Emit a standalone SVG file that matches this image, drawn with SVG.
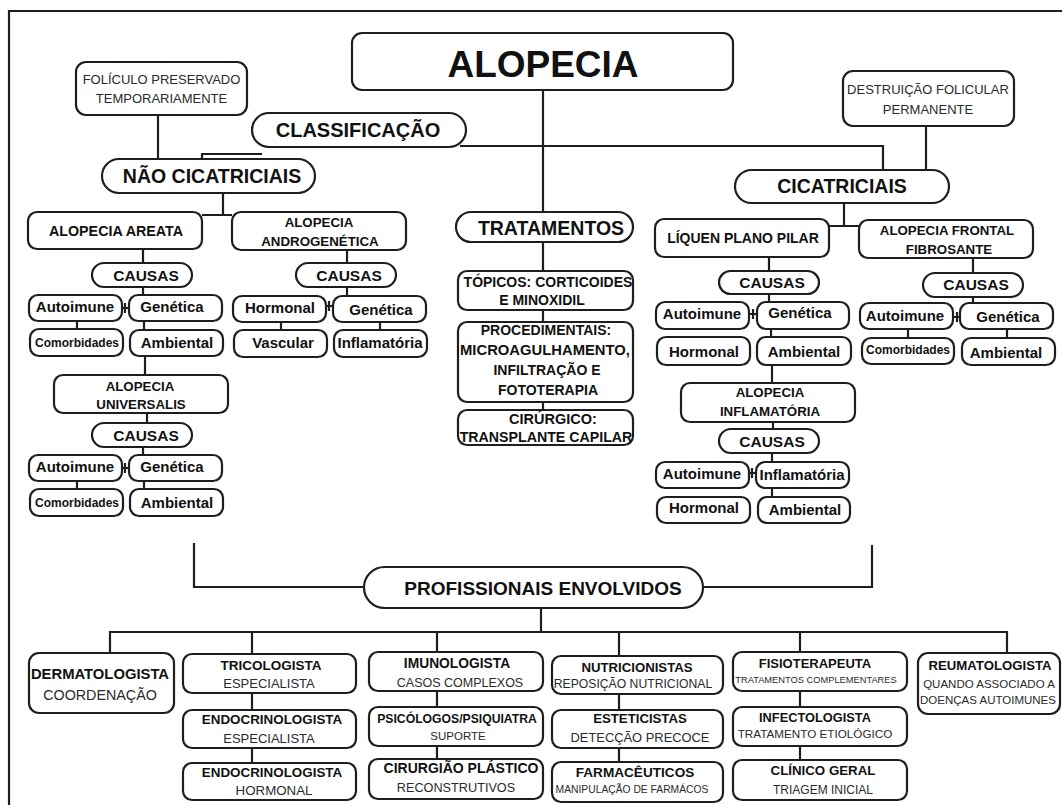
<svg xmlns="http://www.w3.org/2000/svg" width="1062" height="805" viewBox="0 0 1062 805">
<style>
.b{fill:#fff;stroke:#1e1e1e;stroke-width:2.2}
.c{fill:none;stroke:#1e1e1e;stroke-width:2.2}
text{font-family:"Liberation Sans",Arial,sans-serif;fill:#111;text-anchor:middle}
.t{font-weight:bold}
.r{font-weight:normal;fill:#2a2a2a}
.s{font-weight:bold;font-size:15px}
.ca{font-weight:bold;font-size:15.5px}
.cm{font-weight:bold;font-size:12px}
.two{font-weight:bold;font-size:13.3px}
</style>
<rect width="1062" height="805" fill="#fff"/>
<path class="c" d="M9 805 V11 H1062" stroke-width="2.5"/>

<g id="connectors">
<path class="c" d="M543 90 V212"/>
<path class="c" d="M202 159 V154 H262"/>
<path class="c" d="M460 146 H883 V170"/>
<path class="c" d="M158 115 V159"/>
<path class="c" d="M926 126 V170"/>
<path class="c" d="M223 193 V215 M202 215 H232"/>
<path class="c" d="M143 249 V263 M143 287 V295"/>
<path class="c" d="M122 308 H129 M125 303 V313"/>
<path class="c" d="M77 321 V329 M144 321 V330"/>
<path class="c" d="M145 356 V375"/>
<path class="c" d="M147 413 V423 M143 447 V455"/>
<path class="c" d="M122 468 H129 M125 463 V473"/>
<path class="c" d="M77 481 V489 M144 481 V489"/>
<path class="c" d="M347 250 V263 M347 287 V296"/>
<path class="c" d="M326 306 H333 M329 301 V311"/>
<path class="c" d="M281 322 V330 M380 322 V330"/>
<path class="c" d="M543 242 V271 M543 310 V322 M543 402 V410"/>
<path class="c" d="M844 203 V226 M829 226 H859"/>
<path class="c" d="M769 257 V271 M769 294 V302"/>
<path class="c" d="M749 314 H757 M753 309 V319"/>
<path class="c" d="M771 329 V337"/>
<path class="c" d="M772 365 V383"/>
<path class="c" d="M773 422 V429 M772 453 V462"/>
<path class="c" d="M749 473 H756 M752 468 V478"/>
<path class="c" d="M772 488 V497"/>
<path class="c" d="M973 258 V273 M973 297 V303"/>
<path class="c" d="M953 317 H960 M957 312 V322"/>
<path class="c" d="M908 329 V338 M1007 329 V338"/>
<path class="c" d="M194 543 V587 H364 M872 545 V587 H703"/>
<path class="c" d="M541 608 V632 M110 653 V632 H1007 V653"/>
<path class="c" d="M252 632 V654 M437 632 V652 M619 632 V656 M800 632 V652"/>
<path class="c" d="M252 693 V710 M252 748 V763 M437 691 V707 M437 746 V759"/>
<path class="c" d="M619 694 V710 M619 748 V762 M800 691 V707 M800 746 V760"/>
</g>

<g id="n-alopecia"><rect class="b" x="352" y="33" width="381" height="57" rx="10"/><text class="t" x="543" y="77" font-size="37">ALOPECIA</text></g>
<g id="n-classificacao"><rect class="b" x="252" y="113" width="214" height="34" rx="17"/><text class="t" x="358" y="137" font-size="20">CLASSIFICAÇÃO</text></g>
<g id="n-foliculo"><rect class="b" x="76" y="62" width="171" height="53" rx="10"/><text class="r" x="161.5" y="84" font-size="13">FOLÍCULO PRESERVADO</text><text class="r" x="161.5" y="103" font-size="13">TEMPORARIAMENTE</text></g>
<g id="n-destruicao"><rect class="b" x="843" y="71" width="171" height="55" rx="10"/><text class="r" x="928" y="94" font-size="13">DESTRUIÇÃO FOLICULAR</text><text class="r" x="928" y="114" font-size="13">PERMANENTE</text></g>
<g id="n-nao"><rect class="b" x="102" y="159" width="213" height="34" rx="17"/><text class="t" x="212" y="183" font-size="19.5">NÃO CICATRICIAIS</text></g>
<g id="n-cicatriciais"><rect class="b" x="735" y="170" width="214" height="33" rx="16.5"/><text class="t" x="842" y="193" font-size="19.5">CICATRICIAIS</text></g>
<g id="n-tratamentos"><rect class="b" x="456" y="212" width="177" height="30" rx="15"/><text class="t" x="551" y="235" font-size="19.5">TRATAMENTOS</text></g>

<g id="n-areata"><rect class="b" x="28" y="212" width="174" height="37" rx="9"/><text class="t" x="116" y="236" font-size="14.3">ALOPECIA AREATA</text></g>
<g id="n-andro"><rect class="b" x="232" y="212" width="174" height="38" rx="9"/><text class="two" x="319" y="227">ALOPECIA</text><text class="two" x="320" y="246">ANDROGENÉTICA</text></g>
<g id="n-causas1"><rect class="b" x="92" y="263" width="100" height="24" rx="12"/><text class="ca" x="146" y="281">CAUSAS</text></g>
<g id="n-auto1"><rect class="b" x="29" y="295" width="93" height="26" rx="9"/><text class="s" x="75" y="312">Autoimune</text></g>
<g id="n-gen1"><rect class="b" x="129" y="295" width="93" height="26" rx="9"/><text class="s" x="172" y="312">Genética</text></g>
<g id="n-comor1"><rect class="b" x="30" y="329" width="93" height="27" rx="9"/><text class="cm" x="77" y="347">Comorbidades</text></g>
<g id="n-amb1"><rect class="b" x="130" y="330" width="93" height="26" rx="9"/><text class="s" x="177" y="348">Ambiental</text></g>
<g id="n-univ"><rect class="b" x="54" y="375" width="174" height="38" rx="9"/><text class="two" x="140" y="391">ALOPECIA</text><text class="two" x="141" y="409">UNIVERSALIS</text></g>
<g id="n-causas2"><rect class="b" x="92" y="423" width="100" height="24" rx="12"/><text class="ca" x="146" y="441">CAUSAS</text></g>
<g id="n-auto2"><rect class="b" x="29" y="455" width="93" height="26" rx="9"/><text class="s" x="75" y="472">Autoimune</text></g>
<g id="n-gen2"><rect class="b" x="129" y="455" width="93" height="26" rx="9"/><text class="s" x="172" y="472">Genética</text></g>
<g id="n-comor2"><rect class="b" x="30" y="489" width="93" height="27" rx="9"/><text class="cm" x="77" y="507">Comorbidades</text></g>
<g id="n-amb2"><rect class="b" x="130" y="489" width="93" height="27" rx="9"/><text class="s" x="177" y="508">Ambiental</text></g>

<g id="n-causas3"><rect class="b" x="296" y="263" width="100" height="24" rx="12"/><text class="ca" x="349" y="281">CAUSAS</text></g>
<g id="n-horm3"><rect class="b" x="233" y="296" width="93" height="26" rx="9"/><text class="s" x="280" y="313">Hormonal</text></g>
<g id="n-gen3"><rect class="b" x="333" y="296" width="93" height="26" rx="9"/><text class="s" x="381" y="315">Genética</text></g>
<g id="n-vasc"><rect class="b" x="234" y="330" width="93" height="27" rx="9"/><text class="s" x="283" y="348">Vascular</text></g>
<g id="n-inflam3"><rect class="b" x="334" y="330" width="93" height="27" rx="9"/><text class="s" x="380" y="348" font-size="15.5">Inflamatória</text></g>

<g id="n-topicos"><rect class="b" x="458" y="271" width="175" height="39" rx="9"/><text class="t" x="548" y="287" font-size="14">TÓPICOS: CORTICOIDES</text><text class="t" x="542" y="305" font-size="14">E MINOXIDIL</text></g>
<g id="n-proc"><rect class="b" x="458" y="322" width="175" height="80" rx="9"/><text class="t" x="546" y="335" font-size="14">PROCEDIMENTAIS:</text><text class="t" x="545" y="355" font-size="14.8">MICROAGULHAMENTO,</text><text class="t" x="547" y="375" font-size="14">INFILTRAÇÃO E</text><text class="t" x="548" y="395" font-size="14">FOTOTERAPIA</text></g>
<g id="n-cirurgico"><rect class="b" x="458" y="410" width="175" height="35" rx="9"/><text class="t" x="553" y="424" font-size="14.5">CIRÚRGICO:</text><text class="t" x="546" y="442" font-size="14.2">TRANSPLANTE CAPILAR</text></g>

<g id="n-liquen"><rect class="b" x="655" y="219" width="174" height="38" rx="9"/><text class="t" x="743" y="243" font-size="14">LÍQUEN PLANO PILAR</text></g>
<g id="n-frontal"><rect class="b" x="859" y="220" width="174" height="38" rx="9"/><text class="two" x="947" y="235" font-size="13">ALOPECIA FRONTAL</text><text class="two" x="949" y="254">FIBROSANTE</text></g>
<g id="n-causas4"><rect class="b" x="719" y="271" width="100" height="23" rx="11.5"/><text class="ca" x="772" y="288">CAUSAS</text></g>
<g id="n-auto4"><rect class="b" x="656" y="302" width="93" height="27" rx="9"/><text class="s" x="702" y="319">Autoimune</text></g>
<g id="n-gen4"><rect class="b" x="757" y="302" width="92" height="27" rx="9"/><text class="s" x="800" y="318">Genética</text></g>
<g id="n-horm4"><rect class="b" x="657" y="337" width="93" height="28" rx="9"/><text class="s" x="704" y="357">Hormonal</text></g>
<g id="n-amb4"><rect class="b" x="757" y="337" width="94" height="28" rx="9"/><text class="s" x="804" y="357">Ambiental</text></g>
<g id="n-inflalop"><rect class="b" x="681" y="383" width="174" height="39" rx="9"/><text class="two" x="770" y="397">ALOPECIA</text><text class="two" x="770" y="416">INFLAMATÓRIA</text></g>
<g id="n-causas5"><rect class="b" x="719" y="429" width="100" height="24" rx="12"/><text class="ca" x="772" y="447">CAUSAS</text></g>
<g id="n-auto5"><rect class="b" x="656" y="462" width="93" height="26" rx="9"/><text class="s" x="702" y="479">Autoimune</text></g>
<g id="n-inflam5"><rect class="b" x="756" y="462" width="93" height="26" rx="9"/><text class="s" x="802" y="480" font-size="15.5">Inflamatória</text></g>
<g id="n-horm5"><rect class="b" x="657" y="497" width="93" height="26" rx="9"/><text class="s" x="704" y="513">Hormonal</text></g>
<g id="n-amb5"><rect class="b" x="758" y="497" width="92" height="26" rx="9"/><text class="s" x="805" y="515">Ambiental</text></g>
<g id="n-causas6"><rect class="b" x="923" y="273" width="100" height="24" rx="12"/><text class="ca" x="976" y="290">CAUSAS</text></g>
<g id="n-auto6"><rect class="b" x="860" y="303" width="93" height="26" rx="9"/><text class="s" x="905" y="321">Autoimune</text></g>
<g id="n-gen6"><rect class="b" x="960" y="303" width="93" height="26" rx="9"/><text class="s" x="1008" y="322">Genética</text></g>
<g id="n-comor6"><rect class="b" x="862" y="338" width="92" height="26" rx="9"/><text class="cm" x="908" y="354">Comorbidades</text></g>
<g id="n-amb6"><rect class="b" x="962" y="338" width="93" height="27" rx="9"/><text class="s" x="1006" y="358">Ambiental</text></g>

<g id="n-prof"><rect class="b" x="364" y="567" width="339" height="41" rx="20.5"/><text class="t" x="543" y="595" font-size="19">PROFISSIONAIS ENVOLVIDOS</text></g>

<g id="n-derma"><rect class="b" x="29" y="653" width="145" height="60" rx="10"/><text class="t" x="100" y="679" font-size="14.8">DERMATOLOGISTA</text><text class="r" x="100" y="700" font-size="14.3">COORDENAÇÃO</text></g>
<g id="n-trico"><rect class="b" x="183" y="654" width="173" height="39" rx="9"/><text class="t" x="271" y="670" font-size="13.5">TRICOLOGISTA</text><text class="r" x="269" y="688" font-size="13">ESPECIALISTA</text></g>
<g id="n-endo1"><rect class="b" x="183" y="710" width="173" height="38" rx="9"/><text class="t" x="272" y="724" font-size="13.4">ENDOCRINOLOGISTA</text><text class="r" x="269" y="743" font-size="13">ESPECIALISTA</text></g>
<g id="n-endo2"><rect class="b" x="183" y="763" width="173" height="37" rx="9"/><text class="t" x="272" y="777" font-size="13.4">ENDOCRINOLOGISTA</text><text class="r" x="274" y="795" font-size="13.3">HORMONAL</text></g>
<g id="n-imuno"><rect class="b" x="369" y="652" width="174" height="39" rx="9"/><text class="t" x="457" y="668" font-size="13.8">IMUNOLOGISTA</text><text class="r" x="460" y="687" font-size="12.5">CASOS COMPLEXOS</text></g>
<g id="n-psico"><rect class="b" x="369" y="707" width="174" height="39" rx="9"/><text class="t" x="457" y="723" font-size="12.2">PSICÓLOGOS/PSIQUIATRA</text><text class="r" x="458" y="740" font-size="11.5">SUPORTE</text></g>
<g id="n-cirurgiao"><rect class="b" x="369" y="759" width="174" height="40" rx="9"/><text class="t" x="461" y="773" font-size="14">CIRURGIÃO PLÁSTICO</text><text class="r" x="456" y="792" font-size="12.7">RECONSTRUTIVOS</text></g>
<g id="n-nutri"><rect class="b" x="552" y="656" width="171" height="38" rx="9"/><text class="t" x="637" y="672" font-size="13.2">NUTRICIONISTAS</text><text class="r" x="633" y="688" font-size="12.2">REPOSIÇÃO NUTRICIONAL</text></g>
<g id="n-estet"><rect class="b" x="552" y="710" width="171" height="38" rx="9"/><text class="t" x="640" y="723" font-size="13.2">ESTETICISTAS</text><text class="r" x="640" y="742" font-size="12.9">DETECÇÃO PRECOCE</text></g>
<g id="n-farma"><rect class="b" x="552" y="762" width="171" height="40" rx="9"/><text class="t" x="635" y="777" font-size="13.6">FARMACÊUTICOS</text><text class="r" x="632" y="793" font-size="10.3">MANIPULAÇÃO DE FARMÁCOS</text></g>
<g id="n-fisio"><rect class="b" x="733" y="652" width="174" height="39" rx="9"/><text class="t" x="815" y="668" font-size="13">FISIOTERAPEUTA</text><text class="r" x="816" y="683" font-size="9.3">TRATAMENTOS COMPLEMENTARES</text></g>
<g id="n-infecto"><rect class="b" x="733" y="707" width="174" height="39" rx="9"/><text class="t" x="815" y="722" font-size="12.8">INFECTOLOGISTA</text><text class="r" x="815" y="738" font-size="11.7">TRATAMENTO ETIOLÓGICO</text></g>
<g id="n-clinico"><rect class="b" x="733" y="760" width="174" height="40" rx="9"/><text class="t" x="823" y="775" font-size="13.3">CLÍNICO GERAL</text><text class="r" x="823" y="794" font-size="12">TRIAGEM INICIAL</text></g>
<g id="n-reuma"><rect class="b" x="918" y="653" width="142" height="61" rx="10"/><text class="t" x="990" y="670" font-size="13.2">REUMATOLOGISTA</text><text class="r" x="989" y="688" font-size="11.5">QUANDO ASSOCIADO A</text><text class="r" x="988" y="704" font-size="11.5">DOENÇAS AUTOIMUNES</text></g>
</svg>
